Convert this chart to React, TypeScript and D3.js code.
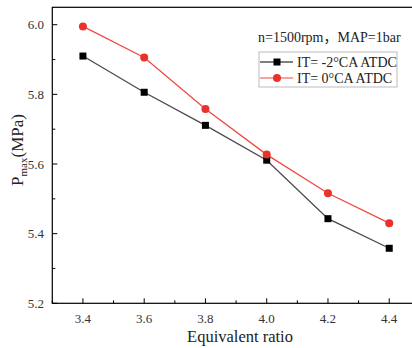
import React from "react";
import * as d3 from "d3";

const xValues = [3.4, 3.6, 3.8, 4.0, 4.2, 4.4];
const seriesA = [5.91, 5.806, 5.711, 5.611, 5.443, 5.358];
const seriesB = [5.995, 5.906, 5.758, 5.627, 5.516, 5.43];
const xTicks = [3.4, 3.6, 3.8, 4.0, 4.2, 4.4];
const yTicks = [5.2, 5.4, 5.6, 5.8, 6.0];
const legendA = "IT= -2°CA ATDC";
const legendB = "IT= 0°CA ATDC";

const W = 412, H = 348;
const L = 52.3, T = 7.3, B = 303.3;
const R = L + 1.2 * 306.3;
const font = "Liberation Serif, Times New Roman, serif";
const cjk = "Noto Sans CJK SC";

export default function App() {
  const x = d3.scaleLinear().domain([3.3, 4.5]).range([L, R]);
  const y = d3.scaleLinear().domain([5.2, 6.05]).range([B, T]);
  const line = d3.line<number>().x((_, i) => x(xValues[i])).y((d) => y(d));
  const xMinor = d3.range(3.3, 4.51, 0.1).map((v) => +v.toFixed(2)).filter((v) => !xTicks.some((t) => Math.abs(t - v) < 1e-6));
  const yMinor = [5.3, 5.5, 5.7, 5.9];
  const red = "#e8322b";
  const redLine = "#f04a40";
  const dark = "#4a4a4a";
  const tf = { fontFamily: font };
  return (
    <svg width={W} height={H} style={{ position: "absolute", left: 0, top: 0, background: "#fff", fontFamily: font }}>
      <rect x={L} y={T} width={R - L} height={B - T} fill="none" stroke="#000" strokeWidth={1.2} />
      {xTicks.map((t) => (
        <g key={"xt" + t}>
          <line x1={x(t)} x2={x(t)} y1={B} y2={B - 5} stroke="#000" strokeWidth={1} />
          <text x={x(t)} y={323} textAnchor="middle" style={tf} fontSize={13} fill="#333">{t.toFixed(1)}</text>
        </g>
      ))}
      {xMinor.map((t) => (
        <line key={"xm" + t} x1={x(t)} x2={x(t)} y1={B} y2={B - 3} stroke="#000" strokeWidth={1} />
      ))}
      {yTicks.map((t) => (
        <g key={"yt" + t}>
          <line x1={L} x2={L + 5} y1={y(t)} y2={y(t)} stroke="#000" strokeWidth={1} />
          <text x={44} y={y(t) + 4.5} textAnchor="end" style={tf} fontSize={13} fill="#333">{t.toFixed(1)}</text>
        </g>
      ))}
      {yMinor.map((t) => (
        <line key={"ym" + t} x1={L} x2={L + 3} y1={y(t)} y2={y(t)} stroke="#000" strokeWidth={1} />
      ))}
      <path d={line(seriesA) || ""} fill="none" stroke={dark} strokeWidth={1.3} />
      <path d={line(seriesB) || ""} fill="none" stroke={redLine} strokeWidth={1.3} />
      {seriesA.map((v, i) => (
        <rect key={"a" + i} x={x(xValues[i]) - 3.5} y={y(v) - 3.5} width={7} height={7} fill="#000" />
      ))}
      {seriesB.map((v, i) => (
        <circle key={"b" + i} cx={x(xValues[i])} cy={y(v)} r={4} fill={red} />
      ))}
      <text x={240} y={342} textAnchor="middle" style={tf} fontSize={16.5} fill="#222">Equivalent ratio</text>
      <text transform="translate(23,150) rotate(-90)" textAnchor="middle" style={tf} fontSize={17} fill="#222">
        P<tspan fontSize={11} dy={4}>max</tspan><tspan dy={-4}>(MPa)</tspan>
      </text>
      <text x={258} y={42} style={tf} fontSize={14} fill="#222">n=1500rpm<tspan style={{ fontFamily: cjk }}>，</tspan>MAP=1bar</text>
      <rect x={259} y={52} width={138} height={35} fill="#fff" stroke="#aaa" strokeWidth={0.8} />
      <line x1={260} x2={293} y1={62} y2={62} stroke="#000" strokeWidth={1.2} />
      <rect x={273.5} y={58.5} width={7} height={7} fill="#000" />
      <text x={297} y={67} style={tf} fontSize={14} fill="#222">{legendA}</text>
      <line x1={260} x2={293} y1={78} y2={78} stroke={redLine} strokeWidth={1.2} />
      <circle cx={277} cy={78} r={4} fill={red} />
      <text x={297} y={83} style={tf} fontSize={14} fill="#222">{legendB}</text>
    </svg>
  );
}
